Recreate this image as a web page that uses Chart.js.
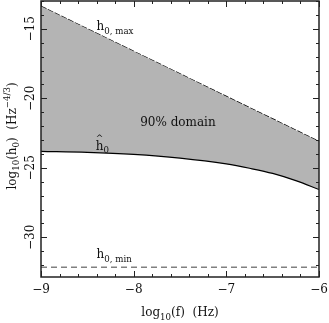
<!DOCTYPE html>
<html>
<head>
<meta charset="utf-8">
<script src="https://cdn.jsdelivr.net/npm/chart.js@4.4.1/dist/chart.umd.min.js"></script>
<style>
html,body{margin:0;padding:0;background:#fff;}
#wrap{width:329px;height:323px;}
</style>
</head>
<body>
<div id="wrap"><canvas id="c" width="329" height="323"></canvas></div>
<script>
// ---- data ----
const logF = [-9, -8.5, -8, -7.5, -7, -6.75, -6.5, -6.25, -6];
const h0Hat = [-23.81, -23.88, -24.03, -24.30, -24.72, -25.03, -25.40, -25.92, -26.56];
const h0Max = [-13.38, -15.00, -16.62, -18.24, -19.86, -20.67, -21.48, -22.29, -23.10];
const h0MinValue = -32.15;
const xMajorTicks = [-9, -8, -7, -6];
const yMajorTicks = [-15, -20, -25, -30];

const FONT = '"DejaVu Serif", "Liberation Serif", serif';

function pts(xs, ys) { return xs.map((x, i) => ({x: x, y: ys[i]})); }

// rich text helper: parts [{t, s:'sub'|'sup'|undefined, hat}]
function richWidth(ctx, parts, size) {
  let w = 0;
  for (const p of parts) {
    ctx.font = (p.s ? size * 0.72 : size) + 'px ' + FONT;
    w += ctx.measureText(p.t).width;
  }
  return w;
}
function drawRich(ctx, x, y, parts, size, align) {
  const w = richWidth(ctx, parts, size);
  let cx = align === 'center' ? x - w / 2 : x;
  ctx.textBaseline = 'alphabetic';
  ctx.textAlign = 'left';
  for (const p of parts) {
    const fs = p.s ? size * 0.72 : size;
    ctx.font = fs + 'px ' + FONT;
    let dy = 0;
    if (p.s === 'sub') dy = size * 0.32;
    if (p.s === 'sup') dy = -size * 0.42;
    ctx.fillText(p.t, cx, y + dy);
    const tw = ctx.measureText(p.t).width;
    if (p.hat) {
      ctx.font = '9px ' + FONT;
      ctx.textAlign = 'center';
      ctx.fillText('^', cx + tw / 2, y - 8.5);
      ctx.textAlign = 'left';
    }
    cx += tw;
  }
}

const annotations = [
  {x: -8.40, y: -15.07, parts: [{t: 'h'}, {t: '0, max', s: 'sub'}]},
  {x: -7.93, y: -21.96, parts: [{t: '90% domain'}]},
  {x: -8.41, y: -23.69, parts: [{t: 'h', hat: true}, {t: '0', s: 'sub'}]},
  {x: -8.40, y: -31.46, parts: [{t: 'h'}, {t: '0, min', s: 'sub'}]}
];

const framePlugin = {
  id: 'frame',
  afterDatasetsDraw(chart) {
    const ctx = chart.ctx;
    const xs = chart.scales.x, ys = chart.scales.y;
    ctx.save();
    ctx.fillStyle = '#111';
    for (const a of annotations) {
      drawRich(ctx, xs.getPixelForValue(a.x), ys.getPixelForValue(a.y), a.parts, 12, 'left');
    }
    ctx.restore();
  },
  afterDraw(chart) {
    const ctx = chart.ctx;
    const a = chart.chartArea;
    const xs = chart.scales.x, ys = chart.scales.y;
    ctx.save();
    ctx.strokeStyle = '#222';
    ctx.lineWidth = 1.5;
    ctx.strokeRect(a.left, a.top, a.right - a.left, a.bottom - a.top);
    ctx.lineWidth = 1;
    ctx.beginPath();
    // x ticks (major every 1, minor every 0.2)
    for (let k = 0; k <= 15; k++) {
      const v = xs.min + k * 0.2;
      const px = Math.round(xs.getPixelForValue(v)) + 0.5;
      const len = (k % 5 === 0) ? 6 : 3;
      ctx.moveTo(px, a.bottom); ctx.lineTo(px, a.bottom - len);
      ctx.moveTo(px, a.top); ctx.lineTo(px, a.top + len);
    }
    // y ticks (major every 5, minor every 1)
    for (let v = -32; v <= -13; v++) {
      const py = Math.round(ys.getPixelForValue(v)) + 0.5;
      const len = (v % 5 === 0) ? 6 : 3;
      ctx.moveTo(a.left, py); ctx.lineTo(a.left + len, py);
      ctx.moveTo(a.right, py); ctx.lineTo(a.right - len, py);
    }
    ctx.stroke();

    ctx.fillStyle = '#111';
    ctx.font = '12px ' + FONT;
    ctx.textAlign = 'center';
    ctx.textBaseline = 'middle';
    for (const v of xMajorTicks) {
      ctx.fillText('\u2212' + Math.abs(v), xs.getPixelForValue(v), 290);
    }
    for (const v of yMajorTicks) {
      ctx.save();
      ctx.translate(31, ys.getPixelForValue(v));
      ctx.rotate(-Math.PI / 2);
      ctx.fillText('\u2212' + Math.abs(v), 0, 0);
      ctx.restore();
    }
    // axis titles
    drawRich(ctx, (a.left + a.right) / 2, 316,
      [{t: 'log'}, {t: '10', s: 'sub'}, {t: '(f)  (Hz)'}], 12, 'center');
    ctx.save();
    ctx.translate(15.5, 136);
    ctx.rotate(-Math.PI / 2);
    drawRich(ctx, 0, 0,
      [{t: 'log'}, {t: '10', s: 'sub'}, {t: '(h'}, {t: '0', s: 'sub'}, {t: ')  (Hz'}, {t: '\u22124/3', s: 'sup'}, {t: ')'}], 12, 'center');
    ctx.restore();
    ctx.restore();
  }
};

new Chart(document.getElementById('c'), {
  type: 'line',
  data: {
    datasets: [
      {
        label: 'h0hat',
        data: pts(logF, h0Hat),
        borderColor: '#000',
        borderWidth: 1.2,
        pointRadius: 0,
        cubicInterpolationMode: 'monotone',
        fill: {target: 1},
        backgroundColor: '#b4b4b4'
      },
      {
        label: 'h0max',
        data: pts(logF, h0Max),
        borderColor: '#000',
        borderWidth: 1.2,
        borderDash: [6, 1.5],
        pointRadius: 0,
        fill: false
      },
      {
        label: 'h0min',
        data: [{x: logF[0], y: h0MinValue}, {x: logF[logF.length - 1], y: h0MinValue}],
        borderColor: '#808080',
        borderWidth: 1.5,
        borderDash: [6, 4],
        pointRadius: 0,
        fill: false
      }
    ]
  },
  options: {
    responsive: false,
    animation: false,
    devicePixelRatio: 1,
    layout: {padding: {left: 0, right: 10, top: 1, bottom: 0}},
    plugins: {legend: {display: false}, tooltip: {enabled: false}},
    scales: {
      x: {
        type: 'linear', min: -9, max: -6,
        grid: {display: false}, border: {display: false},
        ticks: {display: false},
        afterFit(s) { s.height = 46; }
      },
      y: {
        type: 'linear', min: -32.85, max: -13.0,
        grid: {display: false}, border: {display: false},
        ticks: {display: false},
        afterFit(s) { s.width = 41; }
      }
    }
  },
  plugins: [framePlugin]
});
</script>
</body>
</html>
